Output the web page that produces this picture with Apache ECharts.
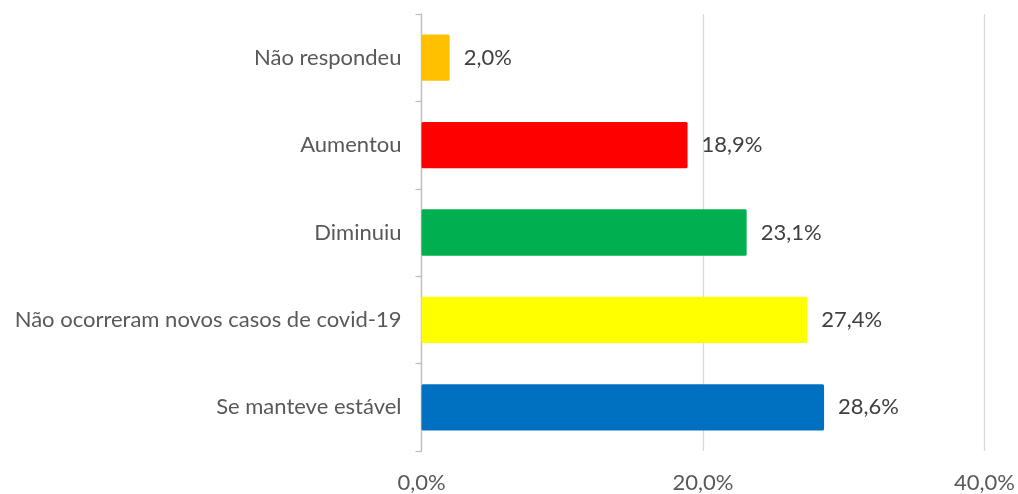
<!DOCTYPE html>
<html>
<head>
<meta charset="utf-8">
<script src="https://cdn.jsdelivr.net/npm/echarts@6/dist/echarts.min.js"></script>
<style>html,body{margin:0;padding:0;background:#fff}#c{width:1018px;height:494px}</style>
</head>
<body>
<div id="c"></div>
<script>
const categories = ["Se manteve estável", "Não ocorreram novos casos de covid-19", "Diminuiu", "Aumentou", "Não respondeu"];
const values = [28.6, 27.4, 23.1, 18.9, 2.0];
const barColors = ["#0070C0", "#FFFF00", "#00B050", "#FF0000", "#FFC000"];
const xTicks = [0, 20, 40];

const fmt = v => v.toFixed(1).replace('.', ',') + '%';
const FONT = "Lato, 'Liberation Sans', sans-serif";

const chart = echarts.init(document.getElementById('c'), null, {renderer: 'canvas'});
chart.setOption({
  animation: false,
  grid: {left: 421.5, right: 31.3, top: 14, bottom: 39, containLabel: false},
  xAxis: {
    type: 'value', min: xTicks[0], max: xTicks[xTicks.length - 1], interval: 20,
    axisLine: {show: false}, axisTick: {show: false},
    splitLine: {show: true, lineStyle: {color: '#D9D9D9', width: 1.3}},
    axisLabel: {formatter: v => fmt(v), color: '#595959', fontSize: 22, fontFamily: FONT, margin: 21}
  },
  yAxis: {
    type: 'category', data: categories,
    axisLine: {show: true, lineStyle: {color: '#BFBFBF', width: 1.3}},
    axisTick: {show: true, length: 6, lineStyle: {color: '#BFBFBF', width: 1.3}},
    axisLabel: {color: '#595959', fontSize: 22, fontFamily: FONT, margin: 20}
  },
  series: [{
    type: 'bar', barWidth: '53%',
    data: values.map((v, i) => ({value: v, itemStyle: {color: barColors[i], borderRadius: 1.5}})),
    label: {show: true, position: 'right', distance: 14, formatter: p => fmt(p.value), color: '#404040', fontSize: 22, fontFamily: FONT}
  }]
});
</script>
</body>
</html>
